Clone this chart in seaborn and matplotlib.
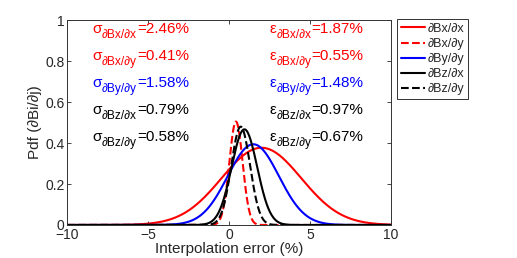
import numpy as np
import pandas as pd
import matplotlib
matplotlib.use("Agg")
import matplotlib.pyplot as plt
import seaborn as sns

# ---- data ----
series = ["∂Bx/∂x", "∂Bx/∂y", "∂By/∂y", "∂Bz/∂x", "∂Bz/∂y"]
colors = ["#ff0000", "#ff0000", "#0000ff", "#000000", "#000000"]
styles = ["-", "--", "-", "-", "--"]
means = [2.0, 0.43, 1.5, 0.95, 0.72]        # peak position (%)
sigmas = [2.46, 0.41, 1.58, 0.79, 0.58]     # width (%)
peaks = [0.377, 0.505, 0.394, 0.467, 0.48]  # peak height
sigma_txt = ["=2.46%", "=0.41%", "=1.58%", "=0.79%", "=0.58%"]
eps_txt = ["=1.87%", "=0.55%", "=1.48%", "=0.97%", "=0.67%"]
sub_txt = ["∂Bx/∂x", "∂Bx/∂y", "∂By/∂y", "∂Bz/∂x", "∂Bz/∂y"]
text_colors = ["#ff0000", "#ff0000", "#0000ff", "#000000", "#000000"]
xticks = [-10, -5, 0, 5, 10]
xticklabels = ["\u221210", "\u22125", "0", "5", "10"]
yticks = [0, 0.2, 0.4, 0.6, 0.8, 1]
yticklabels = ["0", "0.2", "0.4", "0.6", "0.8", "1"]

sns.set_style("ticks")
plt.rcParams["font.family"] = ["Liberation Sans", "DejaVu Sans"]
plt.rcParams["xtick.direction"] = "in"
plt.rcParams["ytick.direction"] = "in"

fig = plt.figure(figsize=(5.17, 2.58), dpi=100)
ax = fig.add_axes([0.130, 0.128, 0.626, 0.794])

x = np.linspace(-10, 10, 801)
for name, c, ls, m, s, p in zip(series, colors, styles, means, sigmas, peaks):
    y = p * np.exp(-0.5 * ((x - m) / s) ** 2)
    sns.lineplot(x=x, y=y, ax=ax, color=c, linestyle=ls, linewidth=1.5, label=name)

ax.set_xlim(-10, 10)
ax.set_ylim(0, 1)
ax.set_xticks(xticks)
ax.set_xticklabels(xticklabels)
ax.set_yticks(yticks)
ax.set_yticklabels(yticklabels)
ax.tick_params(labelsize=10, top=True, right=True, length=3, width=0.6, pad=2)
for sp in ax.spines.values():
    sp.set_linewidth(0.7)
    sp.set_color("#333333")
ax.set_xlabel("Interpolation error (%)", fontsize=11, labelpad=0)
ax.set_ylabel("Pdf (∂Bi/∂j)", fontsize=11, labelpad=2)


def labelled(x0, y0, sym, sub, val, col):
    t1 = ax.text(x0, y0, sym, color=col, fontsize=11, va="baseline", ha="left")
    t2 = ax.annotate(sub, xy=(1, 0), xycoords=t1, xytext=(0.3, -3.6),
                     textcoords="offset points", color=col, fontsize=8.6,
                     va="bottom", ha="left")
    ax.annotate(val, xy=(1, 0), xycoords=(t2, t1), xytext=(0, 0),
                textcoords="offset points", color=col, fontsize=11,
                va="bottom", ha="left")


row_y = [0.937, 0.805, 0.673, 0.541, 0.41]
for i in range(5):
    labelled(-8.46, row_y[i], "σ", sub_txt[i], sigma_txt[i], text_colors[i])
    labelled(2.47, row_y[i], "ε", sub_txt[i], eps_txt[i], text_colors[i])

leg = ax.legend(loc="upper left", bbox_to_anchor=(1.02, 1.005), fontsize=9,
                handlelength=1.9, handletextpad=0.2, borderpad=0.3,
                labelspacing=0.25, borderaxespad=0, fancybox=False, framealpha=1)
leg.get_frame().set_edgecolor("#333333")
leg.get_frame().set_linewidth(0.7)

fig.savefig("out.png", dpi=100)
